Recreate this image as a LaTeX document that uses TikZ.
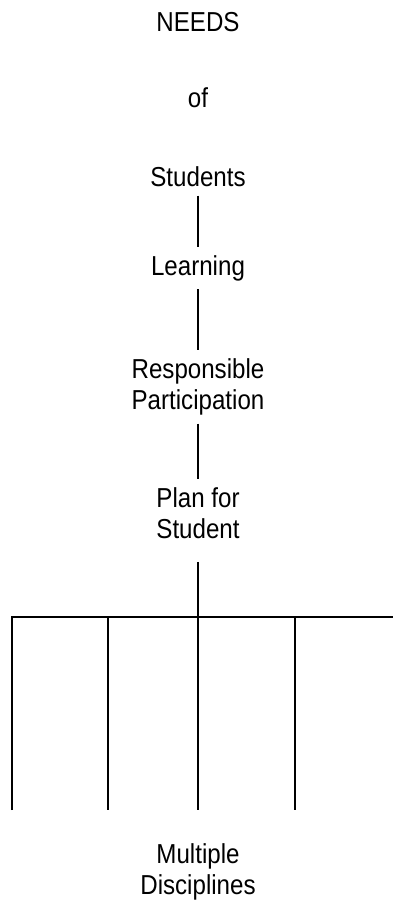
\documentclass[tikz,border=0pt]{standalone}
\usepackage{fontspec}
\setmainfont[FakeStretch=0.88]{Liberation Sans}
\usepackage{tikz}

\tikzset{
  label/.style={font=\fontsize{7.8}{8.8}\selectfont, align=center, inner sep=2.2pt},
  link/.style={line width=0.6pt}
}

\begin{document}
\begin{tikzpicture}
        \useasboundingbox (0,0) rectangle (3.93,-9.05);

        % Draw the chain of needs
        \node[label] (needs) at (1.98,-0.22) {NEEDS};
        \node[label] (of) at (1.98,-0.98) {of};
        \node[label] (students) at (1.98,-1.77) {Students};
        \node[label] (learning) at (1.98,-2.68) {Learning};
        \node[label] (resp) at (1.98,-3.87) {Responsible\\Participation};
        \node[label] (plan) at (1.98,-5.13) {Plan for\\Student};

        \draw[link] (students) -- (learning);
        \draw[link] (learning) -- (resp);
        \draw[link] (resp) -- (plan);

        % Draw the branches to the disciplines
        \coordinate (bar) at (plan |- 0,-6.17);
        \draw[link] ([yshift=-1.5mm]plan.south) -- (bar);
        \draw[link] (0.12,-8.10) -- (0.12,-6.17) -- (3.93,-6.17);
        \foreach \x in {1.08,1.98,2.95}
            \draw[link] (\x,-6.17) -- (\x,-8.10);

        \node[label] (disc) at (1.98,-8.72) {Multiple\\Disciplines};
    \end{tikzpicture}
\end{document}
